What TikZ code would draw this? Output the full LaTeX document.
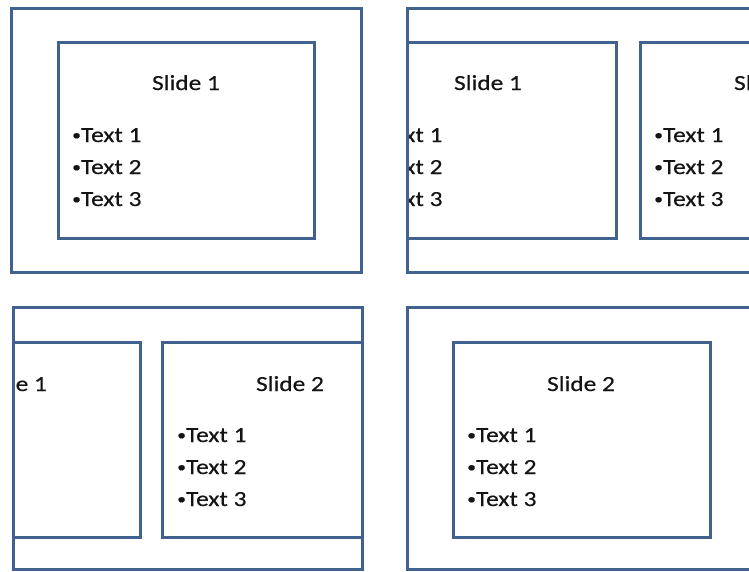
\documentclass[tikz,border=0pt]{standalone}
\usepackage{fontspec}
\setmainfont{Carlito}[FakeStretch=1.18,FakeBold=0.4]
\definecolor{frame}{HTML}{41628F}
\definecolor{ink}{HTML}{141414}
\newcommand\bul{{\fontsize{15}{15}\selectfont\raisebox{2pt}{•}}}
\begin{document}
\begin{tikzpicture}[x=1pt,y=-1pt,
  outerbox/.style={draw=frame,line width=3pt},
  innerbox/.style={draw=frame,line width=3pt},
  titletext/.style={anchor=base,font=\fontsize{21.5}{25}\selectfont,text=ink,inner sep=0pt},
  bullettext/.style={anchor=base west,font=\fontsize{21.5}{25}\selectfont,text=ink,inner sep=0pt}]
\useasboundingbox[fill=white] (0,0) rectangle (749,571);

% Panel 1
\draw[innerbox] (58,42) rectangle (314,238);
\draw[outerbox] (11,8) rectangle (361,272);
\node[titletext] (p1title) at (186,90) {Slide 1};
\node[bullettext] (p1a) at (72,142) {\bul Text 1};
\node[bullettext] (p1b) at (72,174) {\bul Text 2};
\node[bullettext] (p1c) at (72,206) {\bul Text 3};

% Panel 2
\begin{scope}
\clip (407,8) rectangle (749,272);
\draw[innerbox] (360,42) rectangle (616,238);
\draw[innerbox] (640,42) rectangle (896,238);
\node[titletext] (p2title1) at (488,90) {Slide 1};
\node[bullettext] (p2a) at (373,142) {\bul Text 1};
\node[bullettext] (p2b) at (373,174) {\bul Text 2};
\node[bullettext] (p2c) at (373,206) {\bul Text 3};
\node[titletext] (p2title2) at (768,90) {Slide 2};
\node[bullettext] (p2d) at (654,142) {\bul Text 1};
\node[bullettext] (p2e) at (654,174) {\bul Text 2};
\node[bullettext] (p2f) at (654,206) {\bul Text 3};
\end{scope}
\draw[outerbox] (407,8) rectangle (770,272);

% Panel 3
\begin{scope}
\clip (13,307) rectangle (362,571);
\draw[innerbox] (-116,342) rectangle (140,537);
\draw[innerbox] (162,342) rectangle (418,537);
\node[titletext] (p3title1) at (13,391) {Slide 1};
\node[titletext] (p3title2) at (290,391) {Slide 2};
\node[bullettext] (p3a) at (177,442) {\bul Text 1};
\node[bullettext] (p3b) at (177,474) {\bul Text 2};
\node[bullettext] (p3c) at (177,506) {\bul Text 3};
\end{scope}
\draw[outerbox] (13,307) rectangle (362,569);

% Panel 4
\draw[innerbox] (453,342) rectangle (710,537);
\draw[outerbox] (407,307) rectangle (770,569);
\node[titletext] (p4title) at (581,391) {Slide 2};
\node[bullettext] (p4a) at (467,442) {\bul Text 1};
\node[bullettext] (p4b) at (467,474) {\bul Text 2};
\node[bullettext] (p4c) at (467,506) {\bul Text 3};
\end{tikzpicture}
\end{document}
